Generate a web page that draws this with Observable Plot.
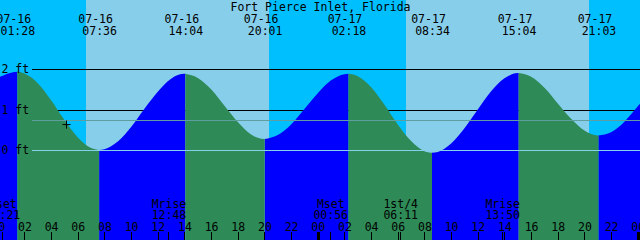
<!DOCTYPE html>
<html><head><meta charset="utf-8">
<script src="https://cdn.jsdelivr.net/npm/d3@7"></script>
<script src="https://cdn.jsdelivr.net/npm/@observablehq/plot@0.6"></script>
<style>html,body{margin:0;padding:0;background:#87ceeb;} #chart svg{display:block}</style>
</head><body><div id="chart"></div>
<script>
// ---- data ----
const title = "Fort Pierce Inlet, Florida";
const rangeStart = "2024-07-16T00:10";
const rangeEnd = "2024-07-18T00:10";
// tide level (ft) read hourly, starting 07-16 00:00
const hourlyStart = "2024-07-16T00:00";
const hourlyLevels = [1.78, 1.91, 1.89, 1.65, 1.23, 0.74, 0.31, 0.05, 0.02, 0.21,
  0.57, 1.02, 1.44, 1.76, 1.88, 1.78, 1.50, 1.09, 0.69, 0.38,
  0.27, 0.37, 0.63, 1.01, 1.40, 1.72, 1.87, 1.82, 1.55, 1.12,
  0.63, 0.22, -0.03, -0.05, 0.16, 0.54, 1.00, 1.45, 1.77, 1.90,
  1.81, 1.54, 1.15, 0.77, 0.48, 0.36, 0.44, 0.70, 1.08, 1.44];
// high / low tides
const extremeTimes = ["2024-07-16T01:28", "2024-07-16T07:36", "2024-07-16T14:04", "2024-07-16T20:01",
  "2024-07-17T02:18", "2024-07-17T08:34", "2024-07-17T15:04", "2024-07-17T21:03"];
const extremeLevels = [1.93, 0.00, 1.88, 0.27, 1.88, -0.07, 1.90, 0.36];
const extremeKinds = ["high", "low", "high", "low", "high", "low", "high", "low"];
// sun
const sunrises = ["2024-07-16T06:37", "2024-07-17T06:37"];
const sunsets = ["2024-07-16T20:20", "2024-07-17T20:20"];
// moon events
const moonTimes = ["2024-07-16T00:21", "2024-07-16T12:48", "2024-07-17T00:56", "2024-07-17T06:11", "2024-07-17T13:50"];
const moonNames = ["Mset", "Mrise", "Mset", "1st/4", "Mrise"];
// depth lines
const depthTicks = [0, 1, 2];
const depthUnit = "ft";
const meanLevel = 0.74;
const datumLevel = 0;
// current-time marker
const nowTime = "2024-07-16T05:07";
const nowLevel = 0.64;

// ---- styles ----
const C = {day: "#87ceeb", night: "#00bfff", rise: "#0000ff", fall: "#2e8b57", datum: "#87ceeb", msl: "#5f9ea0"};
const FONT = "'DejaVu Sans Mono', monospace";
const yDomain = [-2.2222, 3.7037];

// ---- build ----
const parse = d3.utcParse("%Y-%m-%dT%H:%M");
const start = parse(rangeStart), end = parse(rangeEnd);
const h0 = parse(hourlyStart);
const pts = hourlyLevels.map((v, i) => ({time: d3.utcHour.offset(h0, i), level: v, ext: null}));
const exts = extremeTimes.map((s, i) => ({time: parse(s), level: extremeLevels[i], ext: extremeKinds[i]}));
const all = pts.concat(exts).sort((a, b) => a.time - b.time);
const segs = [];
let cur = [];
for (const p of all) {
  cur.push(p);
  if (p.ext) { segs.push({pts: cur, rising: p.ext === "high"}); cur = [p]; }
}
segs.push({pts: cur, rising: cur[0].ext === "low"});
const risingPts = [], fallingPts = [];
segs.forEach((s, i) => {
  const arr = s.rising ? risingPts : fallingPts;
  s.pts.forEach(p => arr.push({time: p.time, level: p.level, seg: i}));
});
const sr = sunrises.map(parse), ss = sunsets.map(parse);
const nights = [{from: start, to: sr[0]}];
for (let i = 0; i < ss.length; i++) nights.push({from: ss[i], to: i + 1 < sr.length ? sr[i + 1] : end});
const moon = moonTimes.map((s, i) => ({time: parse(s), name: moonNames[i]}));
const hourTicks = d3.utcHour.every(2).range(d3.utcDay.floor(start), d3.utcHour.offset(end, 1));
const midnights = hourTicks.filter(d => d.getUTCHours() === 0);
const others = hourTicks.filter(d => d.getUTCHours() !== 0);
const fmtDate = d3.utcFormat("%m-%d"), fmtTime = d3.utcFormat("%H:%M"), fmtHour = d3.utcFormat("%H");

const chart = Plot.plot({
  width: 640, height: 240,
  marginTop: 0, marginRight: 0, marginBottom: 0, marginLeft: 0,
  x: {type: "utc", domain: [start, end], range: [0, 640], axis: null},
  y: {type: "linear", domain: yDomain, range: [240, 0], axis: null},
  style: {fontFamily: FONT, fontSize: "11.5px", background: C.day, color: "black", overflow: "hidden"},
  marks: [
    Plot.rect(nights, {x1: "from", x2: "to", fill: C.night, shapeRendering: "crispEdges"}),
    Plot.ruleY(depthTicks, {stroke: "black", insetLeft: 32, shapeRendering: "crispEdges"}),
    Plot.areaY(risingPts, {x: "time", y1: yDomain[0], y2: "level", z: "seg", fill: C.rise, curve: "monotone-x", clip: true}),
    Plot.areaY(fallingPts, {x: "time", y1: yDomain[0], y2: "level", z: "seg", fill: C.fall, curve: "monotone-x", clip: true}),
    Plot.ruleY([datumLevel], {stroke: C.datum, insetLeft: 32, shapeRendering: "crispEdges"}),
    Plot.ruleY([meanLevel], {stroke: C.msl, insetLeft: 32, shapeRendering: "crispEdges"}),
    Plot.text(depthTicks, {y: d => d, text: d => `${d} ${depthUnit}`, frameAnchor: "left", textAnchor: "start", lineAnchor: "bottom", dx: 1, dy: 3.5}),
    Plot.text([title], {text: d => d, frameAnchor: "top", lineAnchor: "bottom", dy: 10}),
    Plot.text(exts, {x: "time", text: d => fmtDate(d.time), frameAnchor: "top", lineAnchor: "bottom", dy: 22, dx: -4}),
    Plot.text(exts, {x: "time", text: d => fmtTime(d.time), frameAnchor: "top", lineAnchor: "bottom", dy: 34}),
    Plot.ruleX(others, {x: d => d, insetTop: 232, stroke: "black", shapeRendering: "crispEdges"}),
    Plot.ruleX(midnights, {x: d => d, insetTop: 232, stroke: "black", strokeWidth: 3, shapeRendering: "crispEdges"}),
    Plot.ruleX(moon, {x: "time", insetTop: 232, stroke: "black", shapeRendering: "crispEdges"}),
    Plot.text(hourTicks, {x: d => d, text: d => fmtHour(d), frameAnchor: "bottom", lineAnchor: "bottom", dy: -10}),
    Plot.text(moon, {x: "time", text: "name", frameAnchor: "bottom", lineAnchor: "bottom", dy: -33}),
    Plot.text(moon, {x: "time", text: d => fmtTime(d.time), frameAnchor: "bottom", lineAnchor: "bottom", dy: -22}),
    Plot.dot([{time: parse(nowTime), level: nowLevel}], {x: "time", y: "level", symbol: "plus", r: 2.7, stroke: "black", strokeWidth: 1})
  ]
});
document.getElementById("chart").appendChild(chart);
</script>
</body></html>
